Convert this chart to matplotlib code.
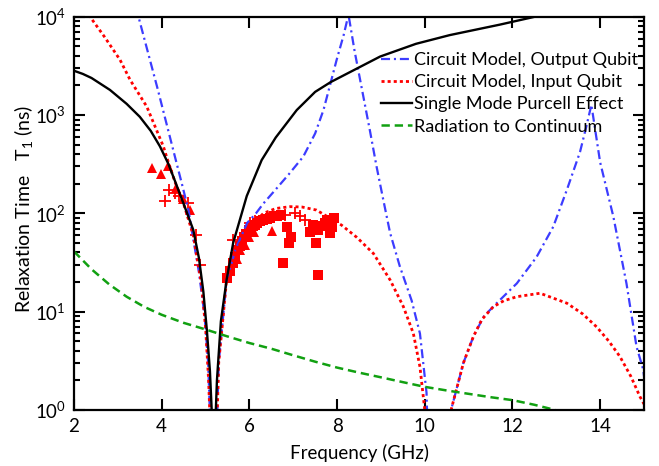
import matplotlib
matplotlib.use('Agg')
import matplotlib.pyplot as plt
from matplotlib.ticker import LogLocator, NullFormatter

plt.rcParams['font.family'] = ['Lato', 'DejaVu Sans']
plt.rcParams['mathtext.fontset'] = 'custom'
plt.rcParams['mathtext.rm'] = 'Lato'
plt.rcParams['mathtext.it'] = 'Lato:italic'
plt.rcParams['lines.scale_dashes'] = False

# circuit model, output qubit (blue dash-dot)
out_f = [3.40, 3.47, 3.90, 4.30, 4.46, 4.61, 4.72, 4.85, 4.98, 5.06, 5.12,
         5.25, 5.30, 5.48, 5.70, 5.95, 6.15, 6.32, 6.60, 6.90, 7.23, 7.50, 7.69, 7.85, 7.99, 8.15, 8.26,
         8.40, 8.57, 8.75, 8.90, 9.05, 9.21, 9.43, 9.70, 9.89, 10.04, 10.07,
         10.55, 10.61, 10.88, 11.11, 11.35, 11.64, 12.10, 12.55, 12.93, 13.24, 13.54, 13.68, 13.80,
         14.00, 14.30, 14.60, 14.83, 14.98, 15.05]
out_t1 = [12500, 10000, 1900, 380, 200, 108, 55, 25, 9, 3, 0.5,
          0.5, 3, 21, 45, 80, 100, 126, 175, 250, 378, 650, 1125, 2100, 3640, 6500, 10500,
          4460, 1800, 690, 300, 140, 63, 29, 13, 6.0, 1.5, 0.5,
          0.5, 1.04, 3.0, 5.6, 9, 12.2, 19.4, 36, 73, 173, 420, 750, 1270,
          330, 93, 19.4, 4.4, 2.6, 1.5]

# circuit model, input qubit (red dotted)
in_f = [2.30, 2.365, 2.70, 3.05, 3.28, 3.66, 4.04, 4.11, 4.30, 4.50, 4.72, 4.90, 5.00, 5.07, 5.12,
        5.25, 5.30, 5.48, 5.70, 6.00, 6.32, 6.60, 6.93, 7.20, 7.53, 8.10, 8.45, 8.83, 9.21, 9.51, 9.74, 9.89, 10.00, 10.03,
        10.55, 10.61, 10.88, 11.11, 11.30, 11.56, 11.80, 12.10, 12.63, 13.24, 13.60, 13.92, 14.20, 14.45, 14.70, 14.91, 15.00]
in_t1 = [12000, 10000, 6200, 3640, 2275, 1217, 477, 378, 210, 125, 60, 20, 7, 2, 0.5,
         0.5, 3, 21, 42, 72, 100, 112, 117, 116, 108, 76, 57, 39, 21, 11.3, 6.0, 2.75, 1.0, 0.5,
         0.5, 1.04, 3.0, 5.6, 8.3, 11.2, 12.9, 14.2, 15.4, 12.2, 9.5, 7.0, 5.0, 3.5, 2.2, 1.36, 1.15]

# single mode Purcell effect (black)
pur_f = [2.0, 2.2, 2.4, 2.82, 3.2, 3.5, 3.75, 3.96, 4.15, 4.30, 4.50, 4.72, 4.85, 4.95, 5.03, 5.10, 5.15, 5.18,
         5.21, 5.26, 5.35, 5.48, 5.63, 5.94, 6.28, 6.60, 7.08, 7.50, 7.86, 8.98, 9.80, 10.57, 11.71, 12.60]
pur_t1 = [2820, 2620, 2380, 1800, 1300, 960, 690, 480, 320, 215, 125, 68, 35, 16, 6.5, 2.5, 0.8, 0.3,
          0.5, 2, 8, 21, 50, 150, 348, 590, 1123, 1720, 2170, 3930, 5300, 6500, 8300, 10200]

# radiation to continuum (green dashed)
rad_f = [2.0, 2.4, 2.8, 3.2, 3.6, 4.0, 4.5, 5.0, 5.5, 6.0, 6.5, 7.0, 7.5, 8.0, 8.5, 9.0, 9.5,
         10.0, 10.5, 11.0, 11.5, 12.0, 12.5, 12.9, 13.0]
rad_t1 = [41, 27, 19, 14.2, 11.2, 9.3, 7.7, 6.6, 5.6, 4.8, 4.2, 3.6, 3.1, 2.7, 2.4, 2.15, 1.92,
          1.72, 1.58, 1.46, 1.35, 1.26, 1.13, 1.02, 0.99]

# measured points
tri_f = [3.79, 3.98, 4.15, 4.33, 4.49, 4.65, 5.56, 5.71, 5.79, 5.90, 6.00, 6.10, 6.51]
tri_t1 = [288, 252, 303, 180, 139, 108, 29, 34, 42, 48, 58, 65, 66]

plus_f = [4.08, 4.17, 4.30, 4.40, 4.61, 4.78, 4.87, 5.63, 6.01, 6.13, 6.81, 7.04, 7.15, 7.27]
plus_t1 = [132, 172, 160, 150, 126, 60, 30, 54, 80, 83, 96, 100, 93, 86]

sq_f = [5.48, 5.56, 5.63, 5.68, 5.73, 5.78, 5.83, 5.88, 5.93, 5.98, 6.03, 6.08, 6.13, 6.18, 6.25,
        6.32, 6.40, 6.48, 6.56, 6.64, 6.72, 6.85, 6.91, 6.96, 6.77, 7.38, 7.46, 7.53, 7.57, 7.57,
        7.65, 7.72, 7.76, 7.84, 7.84, 7.88, 7.92]
sq_t1 = [22, 26, 31, 36, 42, 47, 52, 57, 62, 67, 70, 74, 77, 80, 84,
         86, 88, 90, 93, 95, 97, 73, 50, 57, 31, 65, 76, 50, 68, 23.5,
         75, 80, 86, 79, 63, 72, 90]

fig = plt.figure(figsize=(6.59, 4.66), dpi=100)
ax = fig.add_axes([74 / 659, 1 - 410 / 466, 570 / 659, 393.3 / 466])

ax.plot(tri_f, tri_t1, '^', color='red', ms=7, mew=0)
ax.plot(sq_f, sq_t1, 's', color='red', ms=6.5, mew=0)
ax.plot(plus_f, plus_t1, '+', color='red', ms=9, mew=1.3)

ax.plot(out_f, out_t1, color='#3c3cff', lw=1.6, dashes=(6.5, 2.8, 1.5, 2.8),
        label='Circuit Model, Output Qubit')
ax.plot(in_f, in_t1, color='red', lw=2, dashes=(2.2, 2.2),
        label='Circuit Model, Input Qubit')
ax.plot(pur_f, pur_t1, color='black', lw=1.7, label='Single Mode Purcell Effect')
ax.plot(rad_f, rad_t1, color='#11a011', lw=1.8, dashes=(6, 3.5),
        label='Radiation to Continuum')

ax.set_yscale('log')
ax.set_xlim(2, 15)
ax.set_ylim(1, 1e4)
ax.set_xticks([2, 4, 6, 8, 10, 12, 14])
ax.yaxis.set_minor_locator(LogLocator(base=10, subs=range(2, 10)))
ax.yaxis.set_minor_formatter(NullFormatter())
ax.tick_params(which='both', direction='in', top=True, right=True, labelsize=13.5, width=1.5)
ax.tick_params(which='major', length=8, pad=6)
ax.tick_params(which='minor', length=4.5)
for s in ax.spines.values():
    s.set_linewidth(1.6)

ax.set_xlabel('Frequency (GHz)', fontsize=13.5, labelpad=6)
ax.set_ylabel('Relaxation Time   T$_1$ (ns)', fontsize=14)
ax.yaxis.set_label_coords(-0.068, 0.512)

ax.legend(loc='upper left', bbox_to_anchor=(0.526, 0.929), frameon=False, fontsize=13,
          handlelength=1.7, handletextpad=0.12, labelspacing=0.35, borderaxespad=0)

fig.savefig('out.png', dpi=100)
